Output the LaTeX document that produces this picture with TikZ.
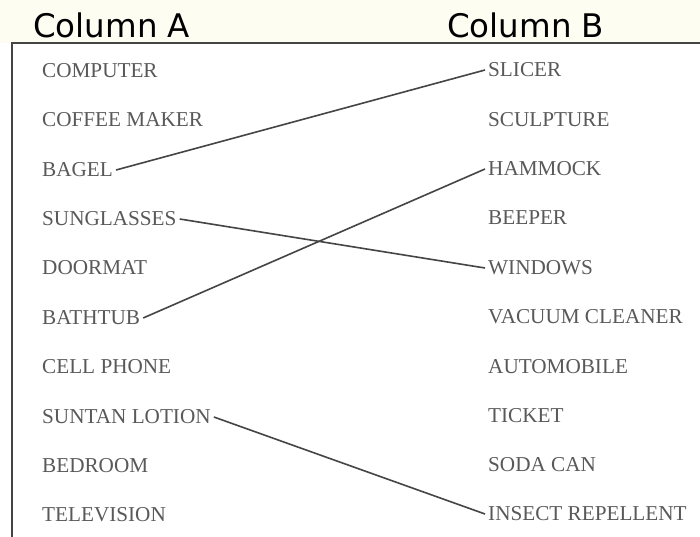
\documentclass[tikz,border=0pt]{standalone}
\usepackage{fontspec}
\setmainfont{Liberation Serif}
\newfontfamily\headfont{DejaVu Sans}
\definecolor{headbg}{HTML}{FDFDF1}
\definecolor{itemgray}{HTML}{595959}
\definecolor{linegray}{HTML}{454545}
\tikzset{
  item/.style={anchor=west,inner sep=3pt,text=itemgray,font=\fontsize{21.2}{23}\selectfont},
  head/.style={anchor=base west,inner sep=0pt,font=\headfont\fontsize{32.5}{35}\selectfont},
  match/.style={draw=linegray,line width=1.6pt}
}
\begin{document}
\begin{tikzpicture}[x=1pt,y=-1pt]
  \useasboundingbox (0,0) rectangle (700,537);
  \fill[headbg] (0,0) rectangle (700,43);
  \fill[white] (12,43) rectangle (700,537);

  \node (hA) [head] at (33,37.5)  {Column A};
  \node (hB) [head] at (447,37.5) {Column B};

  \draw [draw=linegray,line width=1.5pt] (700,43) -- (12,43) -- (12,537);

  % column A
  \node (computer)   [item] at (39,71)  {COMPUTER};
  \node (coffee)     [item] at (39,120) {COFFEE MAKER};
  \node (bagel)      [item] at (39,170) {BAGEL};
  \node (sunglasses) [item] at (39,219) {SUNGLASSES};
  \node (doormat)    [item] at (39,268) {DOORMAT};
  \node (bathtub)    [item] at (39,318) {BATHTUB};
  \node (cellphone)  [item] at (39,367) {CELL PHONE};
  \node (suntan)     [item] at (39,417) {SUNTAN LOTION};
  \node (bedroom)    [item] at (39,466) {BEDROOM};
  \node (television) [item] at (39,515) {TELEVISION};

  % column B
  \node (slicer)     [item] at (485,70)  {SLICER};
  \node (sculpture)  [item] at (485,120) {SCULPTURE};
  \node (hammock)    [item] at (485,169) {HAMMOCK};
  \node (beeper)     [item] at (485,218) {BEEPER};
  \node (windows)    [item] at (485,268) {WINDOWS};
  \node (vacuum)     [item] at (485,317) {VACUUM CLEANER};
  \node (automobile) [item] at (485,367) {AUTOMOBILE};
  \node (ticket)     [item] at (485,416) {TICKET};
  \node (sodacan)    [item] at (485,465) {SODA CAN};
  \node (insect)     [item] at (485,514) {INSECT REPELLENT};

  \draw [match] (bagel.east) -- (slicer.west);
  \draw [match] (sunglasses.east) -- (windows.west);
  \draw [match] (bathtub.east) -- (hammock.west);
  \draw [match] (suntan.east) -- (insect.west);
\end{tikzpicture}
\end{document}
